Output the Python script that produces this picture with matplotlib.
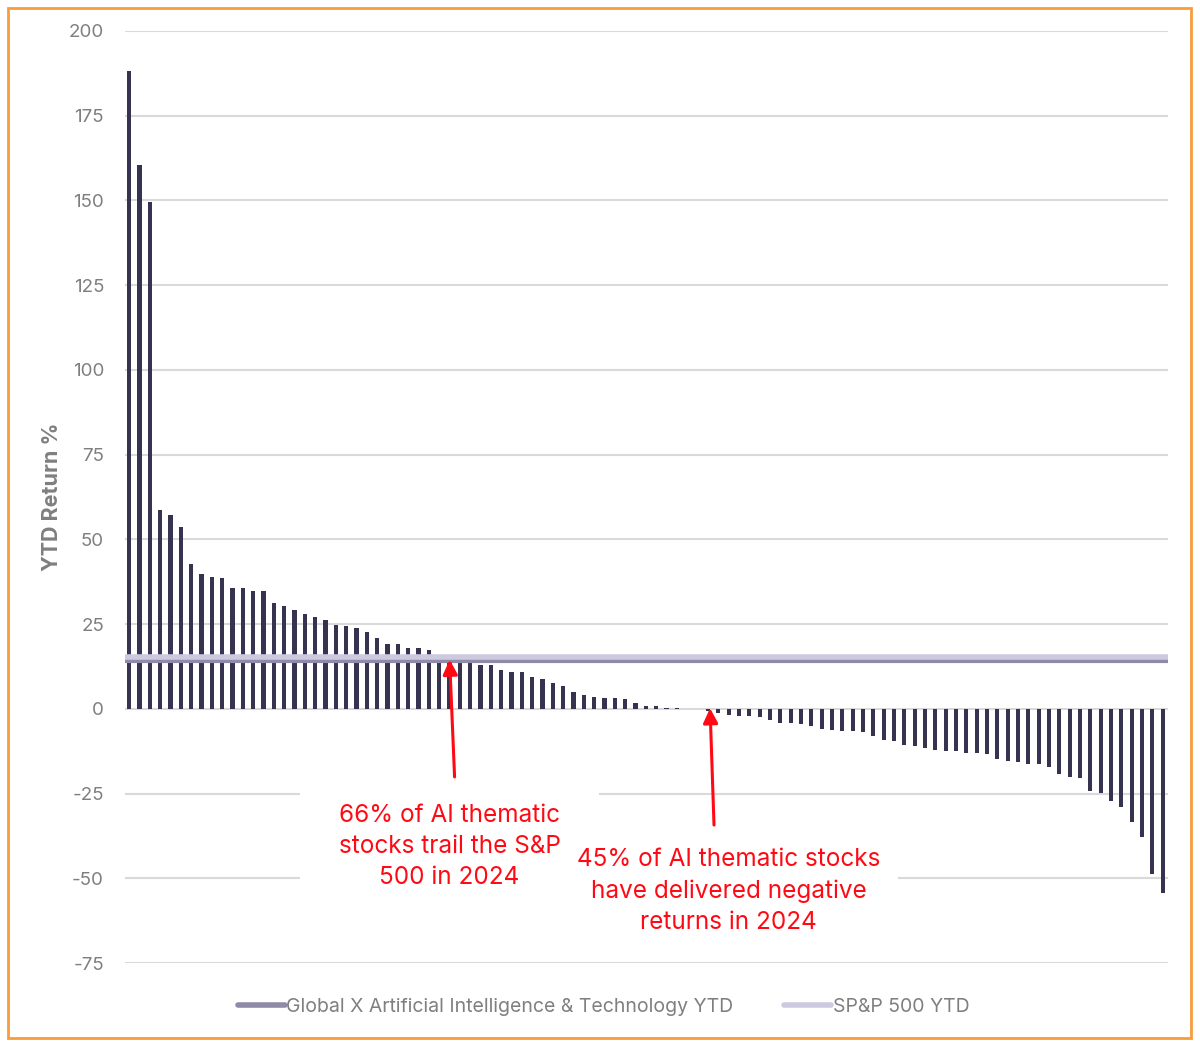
import numpy as np
import matplotlib.pyplot as plt
from matplotlib.lines import Line2D
from matplotlib.patches import Rectangle

plt.rcParams['font.family'] = ['Inter', 'DejaVu Sans']
plt.rcParams['axes.unicode_minus'] = False

# YTD return of each AI thematic stock, sorted high to low
returns = [188.2, 160.4, 149.5, 58.6, 57.1, 53.7, 42.6, 39.7, 38.8, 38.6,
           35.6, 35.6, 34.7, 34.7, 31.1, 30.4, 29.1, 27.9, 27.1, 26.2,
           24.7, 24.4, 23.8, 22.6, 20.9, 19.1, 19.1, 17.9, 17.9, 17.5,
           15.8, 15.7, 15.6, 15.5, 12.8, 12.8, 11.6, 11.0, 11.0, 9.5,
           8.7, 7.5, 6.6, 5.1, 4.2, 3.6, 3.3, 3.1, 2.8, 1.8,
           0.7, 0.7, 0.15, 0.15, 0.1, 0.05, -0.6, -1.2, -1.8, -2.1,
           -2.1, -2.4, -3.2, -4.1, -4.1, -4.4, -5.0, -5.9, -6.2, -6.5,
           -6.5, -6.8, -8.0, -9.2, -9.4, -10.6, -10.9, -11.5, -12.0, -12.3,
           -12.3, -12.9, -12.9, -13.2, -14.9, -15.5, -15.8, -16.4, -16.4, -17.3,
           -19.1, -20.2, -20.5, -24.1, -24.9, -27.3, -29.1, -33.5, -37.9, -48.8,
           -54.4]
globalx_ytd = 14.2
sp500_ytd = 15.3

series_names = ['Global X Artificial Intelligence & Technology YTD', 'SP&P 500 YTD']
note_trail = '66% of AI thematic\nstocks trail the S&P\n500 in 2024'
note_negative = '45% of AI thematic stocks\nhave delivered negative\nreturns in 2024'

bar_color = '#363350'
globalx_color = '#8E8AA8'
sp_color = '#CDCAE0'
grey = '#7F7F7F'
red = '#FF0A14'

fig = plt.figure(figsize=(12, 10.46), dpi=100)
ax = fig.add_axes([0.104, 0.0793, 0.869, 0.8911])

x = np.arange(len(returns))
ax.bar(x, returns, width=0.4, color=bar_color, zorder=3)
ax.axhline(globalx_ytd, color=globalx_color, lw=3, zorder=4)
ax.axhline(sp500_ytd, color=sp_color, lw=4, zorder=5)

ax.set_xlim(-0.42, 100.48)
ax.set_ylim(-75, 200)
ax.set_yticks(np.arange(-75, 201, 25))
ax.set_xticks([])
ax.grid(axis='y', color='#D9D9D9', lw=1.5, zorder=0)
for s in ax.spines.values():
    s.set_visible(False)
ax.tick_params(axis='y', length=0, pad=15, labelsize=13.5, labelcolor=grey)
ax.set_ylabel('YTD Return %', fontsize=15.5, fontweight='bold', color=grey)
ax.yaxis.set_label_coords(-0.060, 0.5)

# white text boxes hiding the grid behind the notes
ax.add_patch(Rectangle((16.5, -56.4), 29.0, 35.5, fc='white', ec='none', zorder=2))
ax.add_patch(Rectangle((41.9, -69.6), 32.5, 32.4, fc='white', ec='none', zorder=2))
ax.text(31.0, -40.5, note_trail, ha='center', va='center', fontsize=17.5,
        color=red, linespacing=1.45, zorder=6)
ax.text(58.0, -53.8, note_negative, ha='center', va='center', fontsize=17.5,
        color=red, linespacing=1.45, zorder=6)
ax.annotate('', xy=(31.0, 15.3), xytext=(31.5, -20.9), zorder=7,
            arrowprops=dict(arrowstyle='-|>', color=red, lw=2.2, mutation_scale=22))
ax.annotate('', xy=(56.2, 1.0), xytext=(56.6, -35.1), zorder=7,
            arrowprops=dict(arrowstyle='-|>', color=red, lw=2.2, mutation_scale=22))

handles = [Line2D([], [], color=globalx_color, lw=4, solid_capstyle='round'),
           Line2D([], [], color=sp_color, lw=4, solid_capstyle='round')]
fig.legend(handles, series_names, loc='center', bbox_to_anchor=(0.503, 0.037),
           ncol=2, frameon=False, fontsize=14, labelcolor=grey,
           handlelength=2.4, handletextpad=0.1, columnspacing=2.6)

fig.patches.append(Rectangle((0.0067, 0.0076), 0.986, 0.9847, transform=fig.transFigure,
                             fill=False, ec='#F89C3C', lw=2))

fig.savefig('out.png', dpi=100, facecolor='white')
